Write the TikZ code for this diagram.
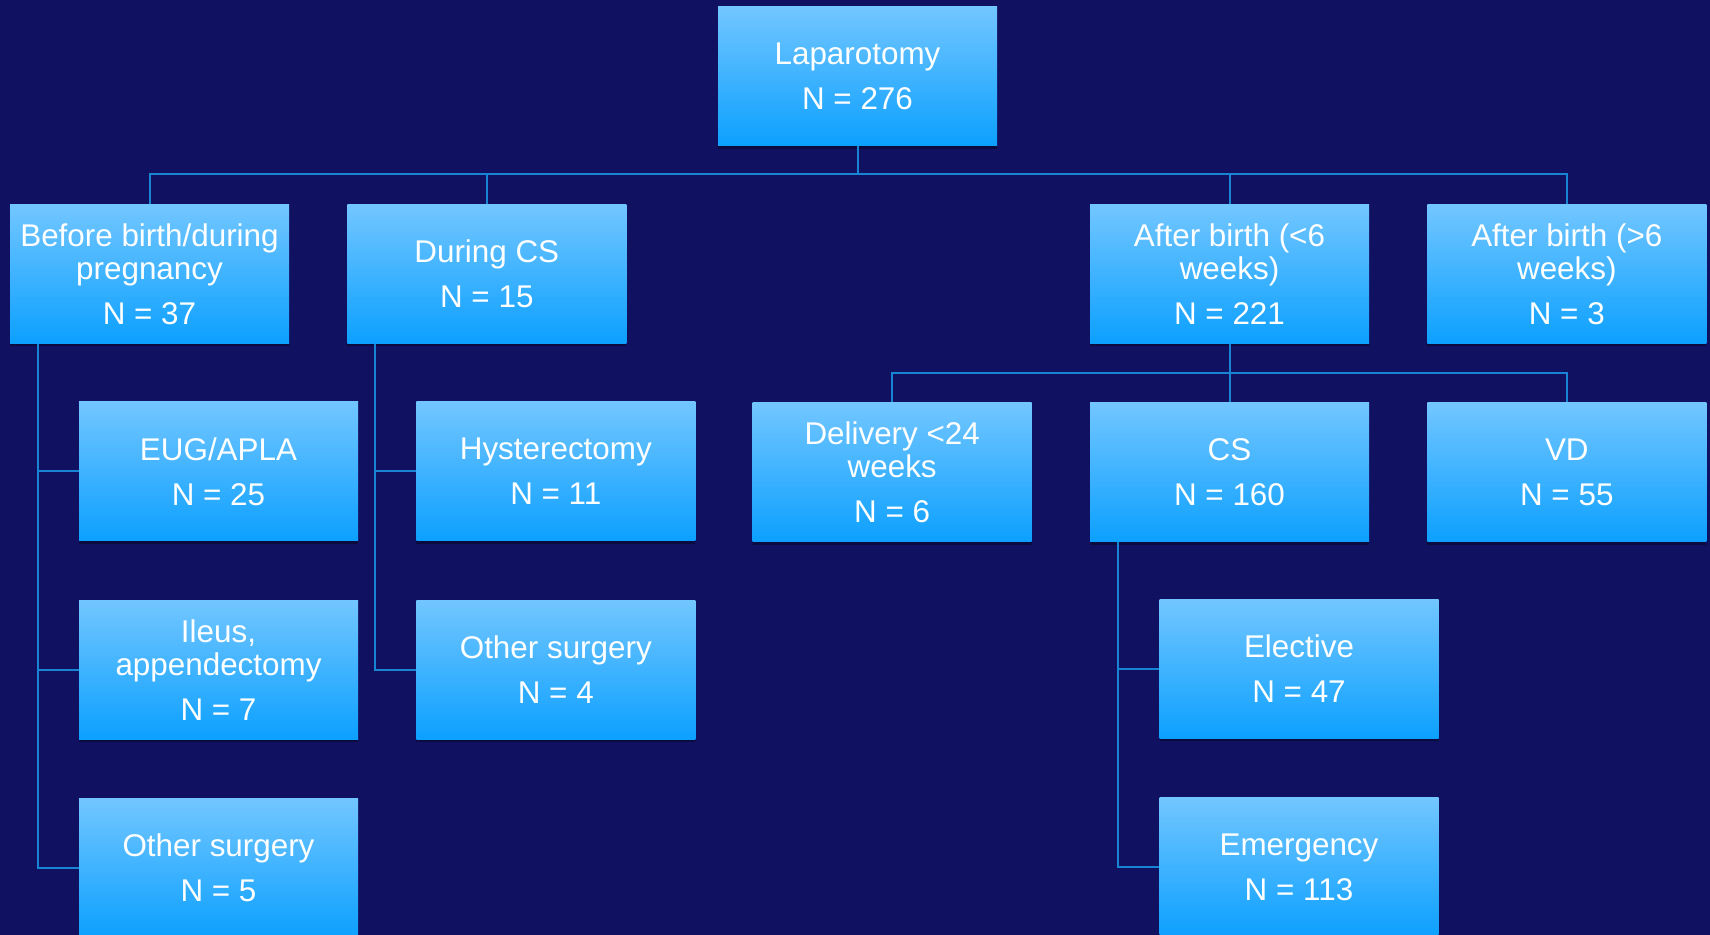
\documentclass[tikz,border=0pt]{standalone}
\usepackage{fontspec}
\setmainfont{Liberation Sans}
\usetikzlibrary{positioning, shadows}
\definecolor{fondo}{RGB}{17,17,98}
\definecolor{cajaalta}{RGB}{114,198,255}
\definecolor{cajabaja}{RGB}{12,160,255}
\definecolor{linea}{RGB}{24,132,212}

\begin{document}
\begin{tikzpicture}[
  x=0.5pt, y=-0.5pt,
  font=\fontsize{15.7}{16.5}\selectfont,
  caja/.style={rectangle, top color=cajaalta, bottom color=cajabaja, draw=none,
               minimum width=139.5pt, minimum height=69.5pt, inner sep=0pt,
               align=center, text=white,
               drop shadow={shadow xshift=0pt, shadow yshift=-1.5pt, opacity=0.35, fill=black}},
  enlace/.style={draw=linea, line width=1pt},
  node distance=29.25pt and 28.75pt
]
\fill[fondo] (0,0) rectangle (1710,935);
\clip (0,0) rectangle (1710,935);

% ---- Raiz ----
\node[caja] (lap) at (857.5,76.5) {Laparotomy\\[6pt]N = 276};

% ---- Primer nivel ----
\node[caja] (antes) at (149.5,274) {Before birth/during\\pregnancy\\[6pt]N = 37};
\node[caja, right=of antes] (durcs) {During CS\\[6pt]N = 15};
\node[caja] (post6) at (1229.5,274) {After birth (<6\\weeks)\\[6pt]N = 221};
\node[caja, right=of post6] (tard6) {After birth (>6\\weeks)\\[6pt]N = 3};

% ---- Segundo nivel ----
\node[caja] (eug) at (218.5,471.5) {EUG/APLA\\[6pt]N = 25};
\node[caja, right=of eug] (hist) {Hysterectomy\\[6pt]N = 11};
\node[caja, below=of post6] (cs) {CS\\[6pt]N = 160};
\node[caja, left=of cs] (parto) {Delivery <24\\weeks\\[6pt]N = 6};
\node[caja, right=of cs] (vd) {VD\\[6pt]N = 55};

% ---- Tercer y cuarto nivel ----
\node[caja, below=of eug] (ileo) {Ileus,\\appendectomy\\[6pt]N = 7};
\node[caja, below=of ileo] (otra1) {Other surgery\\[6pt]N = 5};
\node[caja, below=of hist] (otra2) {Other surgery\\[6pt]N = 4};
\node[caja] (elec) at (1299,669) {Elective\\[6pt]N = 47};
\node[caja, below=of elec] (emer) {Emergency\\[6pt]N = 113};

% ---- Enlaces ----
\coordinate (barra1) at (0,174.5);
\coordinate (barra2) at (0,373);
\foreach \hijo in {antes, durcs, post6, tard6}
  \draw[enlace] (lap.south) -- (lap.south |- barra1) -| (\hijo.north);
\foreach \hijo in {parto, cs, vd}
  \draw[enlace] (post6.south) -- (post6.south |- barra2) -| (\hijo.north);

\coordinate (troncoA) at ([xshift=14pt]antes.south west);
\coordinate (troncoB) at ([xshift=14pt]durcs.south west);
\coordinate (troncoC) at ([xshift=14pt]cs.south west);
\foreach \hijo in {eug, ileo, otra1}
  \draw[enlace] (troncoA) |- (\hijo.west);
\foreach \hijo in {hist, otra2}
  \draw[enlace] (troncoB) |- (\hijo.west);
\foreach \hijo in {elec, emer}
  \draw[enlace] (troncoC) |- (\hijo.west);
\end{tikzpicture}
\end{document}
